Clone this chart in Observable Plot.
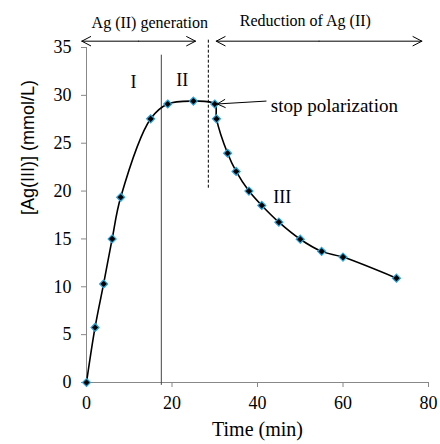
<!DOCTYPE html>
<html>
<head>
<meta charset="utf-8">
<script src="https://cdn.jsdelivr.net/npm/d3@7"></script>
<script src="https://cdn.jsdelivr.net/npm/@observablehq/plot@0.6"></script>
<style>
  html, body { margin: 0; padding: 0; background: #fff; }
  svg { overflow: visible; }
</style>
</head>
<body>
<div id="chart"></div>
<script>
// Data
const time = [0, 2, 4, 6, 8, 15, 19, 25, 30, 30.4, 33, 35, 38, 41, 45, 50, 55, 60, 72.5];
const conc = [0, 5.75, 10.3, 15.0, 19.35, 27.55, 29.1, 29.4, 29.1, 27.55, 23.95, 22.05, 20.0, 18.5, 16.75, 14.97, 13.7, 13.1, 10.9];

const xTicks = [0, 20, 40, 60, 80];
const yTicks = [0, 5, 10, 15, 20, 25, 30, 35];

const xLabel = "Time (min)";
const yLabel = "[Ag(III)] (mmol/L)";

// Annotations (data coordinates)
const phaseNames = ["I", "II", "III"];
const phaseX = [11.0, 22.4, 45.8];
const phaseY = [31.4, 31.6, 19.4];

const headerNames = ["Ag (II) generation", "Reduction of Ag (II)"];
const headerX = [14.8, 51.2];
const headerY = [37.6, 37.8];

const spanStart = [-1.1, 30.35];
const spanEnd = [25.5, 78.45];
const spanY = 35.66;

const boundaryX = 17.5;       // solid divider I | II
const boundaryTop = 34.2;
const stopX = 28.5;           // dashed divider
const stopRange = [20.3, 35.9];

const stopLabel = "stop polarization";
const stopArrow = {x1: 42.0, y1: 29.4, x2: 30.6, y2: 29.1};
const stopText = {x: 43.1, y: 28.95};

const points = time.map((t, i) => ({t, c: conc[i]}));
const phases = phaseNames.map((n, i) => ({n, x: phaseX[i], y: phaseY[i]}));
const headers = headerNames.map((n, i) => ({n, x: headerX[i], y: headerY[i]}));
const spanArrows = [];
spanStart.forEach((s, i) => {
  const mid = (s + spanEnd[i]) / 2;
  spanArrows.push({x1: mid, x2: s, y: spanY});
  spanArrows.push({x1: mid, x2: spanEnd[i], y: spanY});
});

const serif = "'Liberation Serif', 'Times New Roman', serif";
const sans = "'Liberation Sans', Arial, sans-serif";

const chart = Plot.plot({
  width: 440,
  height: 444,
  marginLeft: 86,
  marginRight: 12,
  marginTop: 47,
  marginBottom: 62,
  style: {fontFamily: serif, fontSize: "18px", background: "#fff", overflow: "visible"},
  x: {domain: [0, 80], ticks: xTicks},
  y: {domain: [0, 35], ticks: yTicks},
  marks: [
    Plot.axisX({ticks: xTicks, tickSize: 5, tickPadding: 9, stroke: "#888", fill: "#000", label: null, fontSize: 18}),
    Plot.axisY({ticks: yTicks, tickSize: 5, tickPadding: 10, stroke: "#888", fill: "#000", label: null, fontSize: 18}),
    Plot.ruleX([0], {stroke: "#888", strokeWidth: 1}),
    Plot.ruleY([0], {stroke: "#888", strokeWidth: 1}),
    Plot.ruleX([boundaryX], {y1: -0.3, y2: boundaryTop, stroke: "#444", strokeWidth: 1}),
    Plot.ruleX([stopX], {y1: stopRange[0], y2: stopRange[1], stroke: "#000", strokeWidth: 1, strokeDasharray: "3,2"}),
    Plot.line(points, {x: "t", y: "c", curve: "catmull-rom", stroke: "#000", strokeWidth: 1.6}),
    Plot.dot(points, {x: "t", y: "c", symbol: "diamond2", r: 3.6, fill: "#000", stroke: "#2aa6dc", strokeWidth: 1.2}),
    Plot.arrow(spanArrows, {x1: "x1", x2: "x2", y1: "y", y2: "y", stroke: "#000", strokeWidth: 1, headLength: 15, headAngle: 55}),
    Plot.arrow([stopArrow], {x1: "x1", y1: "y1", x2: "x2", y2: "y2", stroke: "#000", strokeWidth: 1, headLength: 13, headAngle: 55}),
    Plot.text([stopText], {x: "x", y: "y", text: () => stopLabel, textAnchor: "start", fontSize: 19, fontFamily: serif, fill: "#000"}),
    Plot.text(phases, {x: "x", y: "y", text: "n", fontSize: 18, fontFamily: serif, fill: "#000"}),
    Plot.text(headers, {x: "x", y: "y", text: "n", fontSize: 16, fontFamily: serif, fill: "#000"}),
    Plot.text([yLabel], {frameAnchor: "left", dx: -58, rotate: -90, text: d => d, fontSize: 18, fontFamily: sans, fill: "#000"}),
    Plot.text([xLabel], {frameAnchor: "bottom", dy: 53, text: d => d, fontSize: 20, fontFamily: serif, fill: "#000"})
  ]
});
document.getElementById("chart").appendChild(chart);
</script>
</body>
</html>
